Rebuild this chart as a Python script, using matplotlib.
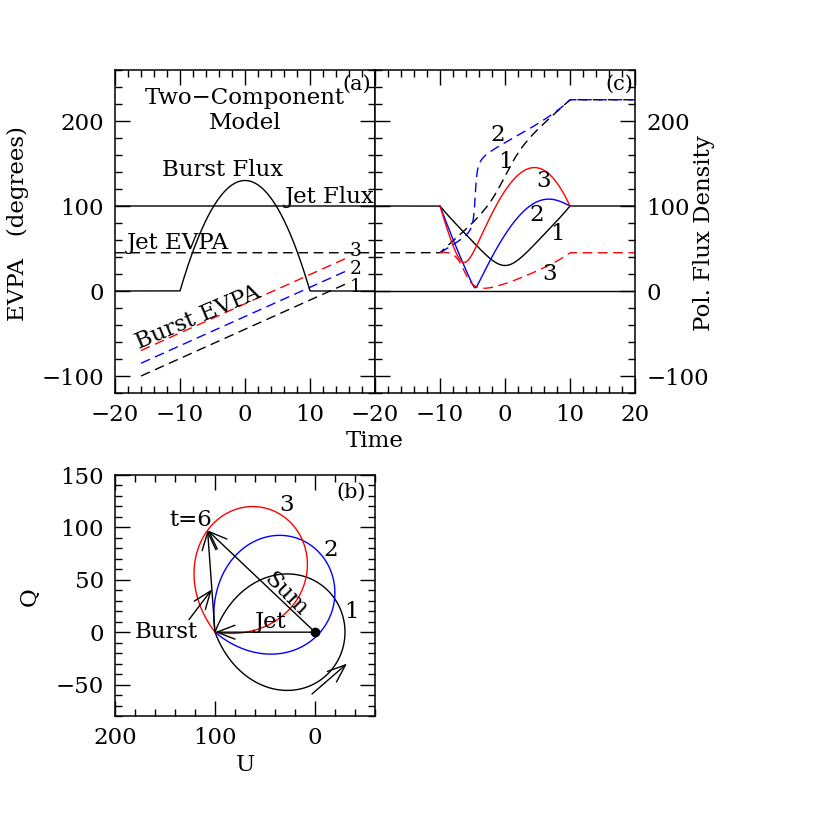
import numpy as np
import matplotlib.pyplot as plt
from matplotlib.ticker import MultipleLocator, FixedLocator

plt.rcParams['font.family'] = ['DejaVu Serif']
plt.rcParams['axes.linewidth'] = 1.1

# Two-component model, parameters
jet_flux = 100.0        # constant jet polarized flux
jet_evpa = 45.0         # jet EVPA (degrees)
burst_peak = 130.0      # burst flux at its peak
burst_times = [-10.0, 10.0]   # start / end of burst
# burst EVPA (dashed lines in panel a) for cases 1, 2, 3 at t = -16 and t = +16
evpa_t = [-16.0, 16.0]
evpa_start = [-100.0, -85.0, -70.0]
evpa_end = [10.0, 25.0, 40.0]
case_names = ['1', '2', '3']
case_colors = ['black', 'blue', 'red']
snap_time = 5.0         # time of the vectors drawn in panel (b)

# time grid
t = np.linspace(-20, 20, 8001)
half = (burst_times[1] - burst_times[0]) / 2
mid = (burst_times[1] + burst_times[0]) / 2


def burst_flux(tt):
    x = (tt - mid) / half
    return np.where(np.abs(x) < 1, burst_peak * (1 - x ** 2), 0.0)


def burst_evpa(tt, i):
    slope = (evpa_end[i] - evpa_start[i]) / (evpa_t[1] - evpa_t[0])
    return evpa_start[i] + slope * (tt - evpa_t[0])


def stokes(tt, i):
    fb = burst_flux(tt)
    cb = np.radians(2 * burst_evpa(tt, i))
    cj = np.radians(2 * jet_evpa)
    q = jet_flux * np.cos(cj) + fb * np.cos(cb)
    u = jet_flux * np.sin(cj) + fb * np.sin(cb)
    return q, u


fig = plt.figure(figsize=(8.3, 8.3), dpi=100)
W = 830.0
ax_a = fig.add_axes([115 / W, 1 - 393 / W, 260 / W, 323 / W])
ax_c = fig.add_axes([375 / W, 1 - 393 / W, 260 / W, 323 / W])
ax_b = fig.add_axes([115 / W, 1 - 716 / W, 260 / W, 241 / W])

lw = 1.0
dash = (7, 4)
fs = 16.5

# ---- panel (a): the two components
ax_a.plot(t, np.full_like(t, jet_flux), color='black', lw=lw)
ax_a.plot(t, np.full_like(t, jet_evpa), color='black', lw=lw, ls='--', dashes=dash)
ax_a.plot(t, burst_flux(t), color='black', lw=lw)
te = np.linspace(evpa_t[0], evpa_t[1], 200)
for i in range(3):
    ax_a.plot(te, burst_evpa(te, i), color=case_colors[i], lw=lw, ls='--', dashes=dash)

ax_a.text(0, 227, 'Two\u2212Component', ha='center', va='center', fontsize=fs)
ax_a.text(0, 198, 'Model', ha='center', va='center', fontsize=fs)
ax_a.text(-3.5, 142, 'Burst Flux', ha='center', va='center', fontsize=fs)
ax_a.text(13, 111, 'Jet Flux', ha='center', va='center', fontsize=fs)
ax_a.text(-10.3, 57, 'Jet EVPA', ha='center', va='center', fontsize=fs)
ax_a.text(-7.2, -31, 'Burst EVPA', ha='center', va='center', fontsize=fs,
          rotation=23, rotation_mode='anchor')
for name, y in zip(case_names, [5, 26, 47]):
    ax_a.text(17, y, name, ha='center', va='center', fontsize=13.5)
ax_a.text(0.93, 0.957, '(a)', transform=ax_a.transAxes, ha='center', va='center', fontsize=15)

ax_a.set_xlim(-20, 20)
ax_a.set_ylim(-120, 260)
ax_a.xaxis.set_major_locator(FixedLocator([-20, -10, 0, 10]))
ax_a.xaxis.set_minor_locator(MultipleLocator(2))
ax_a.yaxis.set_major_locator(MultipleLocator(100))
ax_a.yaxis.set_minor_locator(MultipleLocator(20))

# ---- panel (c): polarized flux and EVPA of the sum
ax_c.axhline(0, color='black', lw=lw)
burst_on = (t >= burst_times[0]) & (t <= burst_times[1])
after_start = t >= burst_times[0]
for i in range(3):
    q, u = stokes(t, i)
    pol = np.hypot(q, u)
    evpa = 0.5 * np.degrees(np.unwrap(np.arctan2(u, q)))
    if i == 0:
        ax_c.plot(t, pol, color=case_colors[i], lw=lw)
        ax_c.plot(t, evpa, color=case_colors[i], lw=lw, ls='--', dashes=dash)
    else:
        ax_c.plot(t[burst_on], pol[burst_on], color=case_colors[i], lw=lw)
        ax_c.plot(t[after_start], evpa[after_start], color=case_colors[i], lw=lw,
                  ls='--', dashes=dash)

c_labels = [(-1.1, 184, '2'), (0, 152, '1'), (5.9, 130, '3'),
            (4.9, 89, '2'), (8, 67, '1'), (6.9, 20, '3')]
for x, y, s in c_labels:
    ax_c.text(x, y, s, ha='center', va='center', fontsize=fs)
ax_c.text(0.94, 0.957, '(c)', transform=ax_c.transAxes, ha='center', va='center', fontsize=15)

ax_c.set_xlim(-20, 20)
ax_c.set_ylim(-120, 260)
ax_c.xaxis.set_major_locator(MultipleLocator(10))
ax_c.xaxis.set_minor_locator(MultipleLocator(2))
ax_c.yaxis.set_major_locator(MultipleLocator(100))
ax_c.yaxis.set_minor_locator(MultipleLocator(20))

# axis titles of the top row
fig.text(18 / W, 1 - 224 / W, 'EVPA   (degrees)', rotation=90, ha='center', va='center',
         fontsize=fs)
fig.text(704 / W, 1 - 233 / W, 'Pol. Flux Density', rotation=90, ha='center', va='center',
         fontsize=fs)
fig.text(375 / W, 1 - 441 / W, 'Time', ha='center', va='center', fontsize=fs)

# ---- panel (b): Q-U plane
tb = np.linspace(burst_times[0], burst_times[1], 2001)
for i in range(3):
    q, u = stokes(tb, i)
    ax_b.plot(u, q, color=case_colors[i], lw=lw)

arrow = dict(arrowstyle='->,head_length=0.65,head_width=0.25', lw=1.0, color='black',
             mutation_scale=20, shrinkA=0, shrinkB=0)
jet_q = jet_flux * np.cos(np.radians(2 * jet_evpa))
jet_u = jet_flux * np.sin(np.radians(2 * jet_evpa))
sq, su = stokes(np.array([snap_time]), 2)
sq, su = sq[0], su[0]
ax_b.annotate('', xy=(jet_u, jet_q), xytext=(0, 0), arrowprops=arrow)
ax_b.annotate('', xy=(su, sq), xytext=(0, 0), arrowprops=arrow)
ax_b.annotate('', xy=(su, sq), xytext=(jet_u, jet_q), arrowprops=arrow)
# pointer to the burst vector
pu = jet_u + 0.42 * (su - jet_u)
pq = jet_q + 0.42 * (sq - jet_q)
ax_b.annotate('', xy=(pu, pq), xytext=(126, 12), arrowprops=arrow)
# direction of rotation
ax_b.annotate('', xy=(-32, -30), xytext=(3, -59), arrowprops=arrow)
ax_b.plot([0], [0], 'o', color='black', ms=6)

ax_b.text(124, 107, 't=6', ha='center', va='center', fontsize=fs)
ax_b.text(149, 0, 'Burst', ha='center', va='center', fontsize=fs)
ax_b.text(44, 10, 'Jet', ha='center', va='center', fontsize=fs)
ax_b.text(29, 36, 'Sum', ha='center', va='center', fontsize=fs,
          rotation=-45, rotation_mode='anchor')
for name, (x, y) in zip(case_names, [(-36, 19), (-16, 78), (28, 121)]):
    ax_b.text(x, y, name, ha='center', va='center', fontsize=fs)
ax_b.text(0.91, 0.93, '(b)', transform=ax_b.transAxes, ha='center', va='center', fontsize=15)

ax_b.set_xlim(200, -60)
ax_b.set_ylim(-80, 150)
ax_b.xaxis.set_major_locator(MultipleLocator(100))
ax_b.xaxis.set_minor_locator(MultipleLocator(20))
ax_b.yaxis.set_major_locator(MultipleLocator(50))
ax_b.yaxis.set_minor_locator(MultipleLocator(10))
fig.text(245 / W, 1 - 765 / W, 'U', ha='center', va='center', fontsize=fs)
fig.text(30 / W, 1 - 597 / W, 'Q', rotation=90, ha='center', va='center', fontsize=fs)

for ax in (ax_a, ax_b, ax_c):
    ax.tick_params(which='both', direction='in', top=True, right=True,
                   labelsize=fs, width=1.0)
    ax.tick_params(which='major', length=11, pad=8)
    ax.tick_params(which='minor', length=5)
ax_c.tick_params(which='both', labelleft=False, labelright=True)

fig.savefig('out.png', dpi=100)
